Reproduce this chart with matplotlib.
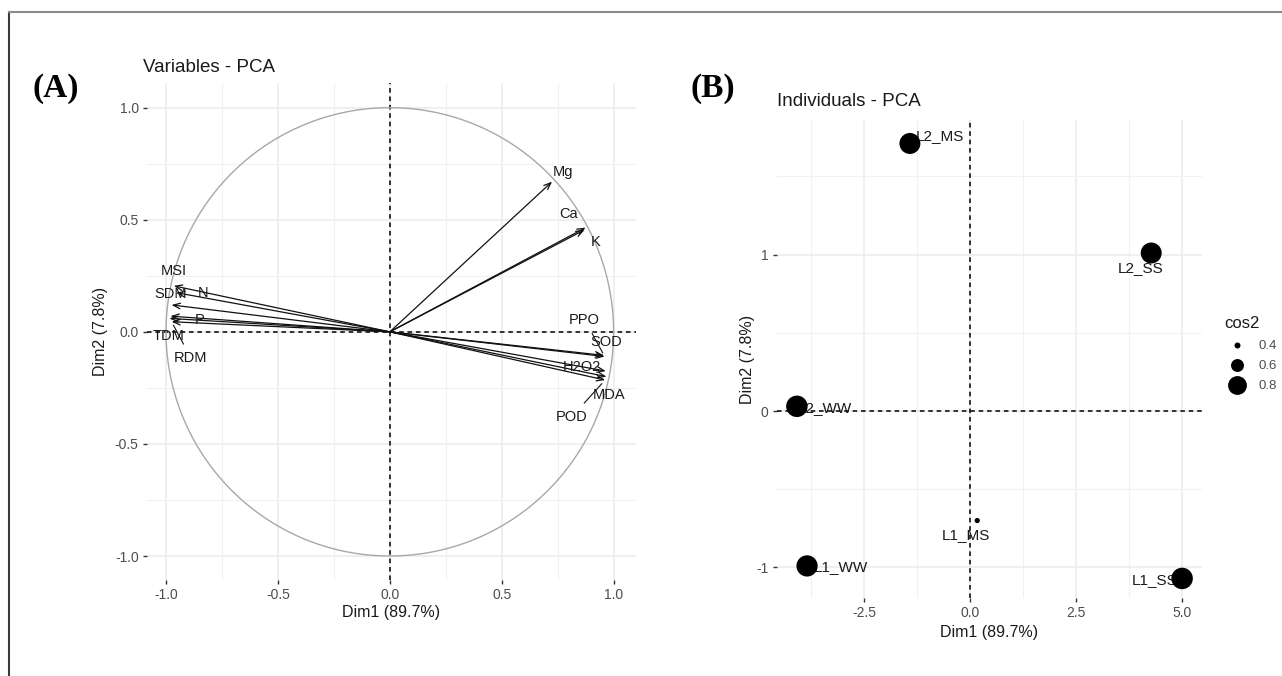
"""PCA biplot: (A) variable correlation circle, (B) individuals coloured by cos2"""
import numpy as np
import matplotlib
matplotlib.use('Agg')
import matplotlib.pyplot as plt
from matplotlib.lines import Line2D

plt.rcParams['font.family'] = ['Liberation Sans', 'DejaVu Sans']
plt.rcParams['axes.unicode_minus'] = False

# === data: variables (A) ===
var_names = ['Mg', 'Ca', 'K', 'PPO', 'SOD', 'H2O2', 'MDA', 'POD',
             'MSI', 'SDM', 'N', 'P', 'TDM', 'RDM']
var_dim1 = [0.725, 0.875, 0.870, 0.960, 0.957, 0.965, 0.968, 0.962,
            -0.965, -0.975, -0.955, -0.980, -0.985, -0.975]
var_dim2 = [0.670, 0.465, 0.455, -0.110, -0.105, -0.175, -0.200, -0.215,
            0.205, 0.120, 0.175, 0.070, 0.060, 0.045]

# === data: individuals (B) ===
ind_names = ['L2_MS', 'L2_SS', 'L2_WW', 'L1_MS', 'L1_WW', 'L1_SS']
ind_dim1 = [-1.42, 4.28, -4.09, 0.17, -3.85, 5.01]
ind_dim2 = [1.71, 1.01, 0.03, -0.70, -0.99, -1.07]
ind_cos2 = [0.88, 0.88, 0.90, 0.38, 0.89, 0.90]
cos2_breaks = [0.4, 0.6, 0.8]

xlab = 'Dim1 (89.7%)'
ylab = 'Dim2 (7.8%)'

# label offsets (data units) for the repelled labels
var_off = {
    'Mg': (0.05, 0.045), 'Ca': (-0.075, 0.06), 'K': (0.05, -0.055),
    'PPO': (-0.09, 0.165), 'SOD': (0.01, 0.06), 'H2O2': (-0.105, 0.02),
    'MDA': (0.01, -0.08), 'POD': (-0.15, -0.165),
    'MSI': (0.0, 0.065), 'SDM': (-0.005, 0.05), 'N': (0.12, 0.0),
    'P': (0.13, -0.015), 'TDM': (-0.005, -0.08), 'RDM': (0.085, -0.16),
}
var_seg = ['PPO', 'POD', 'RDM']
ind_off = {
    'L2_MS': (0.71, 0.05), 'L2_SS': (-0.24, -0.095), 'L2_WW': (0.66, -0.01),
    'L1_MS': (-0.26, -0.09), 'L1_WW': (0.80, -0.01), 'L1_SS': (-0.66, -0.01),
}

W, H = 1282, 676
GRID = '#ebebeb'
TICK_TXT = '#4d4d4d'


def px(x, y):
    return x / W, 1 - y / H


def cos2_size(v):
    # ggplot-like area scale: diameter linear in sqrt(cos2)
    d = -25 + 49 * np.sqrt(np.asarray(v, dtype=float))
    return (d * 72 / 100) ** 2


def style_axes(ax, major_x, minor_x, major_y, minor_y, xt, yt):
    ax.set_xticks(major_x)
    ax.set_xticks(minor_x, minor=True)
    ax.set_yticks(major_y)
    ax.set_yticks(minor_y, minor=True)
    ax.set_xticklabels(xt)
    ax.set_yticklabels(yt)
    ax.grid(which='major', color=GRID, lw=1.1)
    ax.grid(which='minor', color='#f1f1f1', lw=0.8)
    ax.set_axisbelow(True)
    for s in ax.spines.values():
        s.set_visible(False)
    ax.tick_params(which='major', length=3, width=1, color='#333333',
                   labelcolor=TICK_TXT, labelsize=10, pad=3)
    ax.tick_params(which='minor', length=0)
    ax.axhline(0, color='black', lw=1.1, ls=(0, (3, 2.5)), zorder=2)
    ax.axvline(0, color='black', lw=1.1, ls=(0, (3, 2.5)), zorder=2)


fig = plt.figure(figsize=(W / 100, H / 100), dpi=100)

# === (A) Variables - PCA ===
axA = fig.add_axes([147 / W, 1 - 580 / H, 489 / W, 497 / H])
axA.set_xlim(-1.085, 1.10)
axA.set_ylim(-1.107, 1.11)
ticksA = [-1.0, -0.5, 0.0, 0.5, 1.0]
style_axes(axA, ticksA, [-0.75, -0.25, 0.25, 0.75], ticksA, [-0.75, -0.25, 0.25, 0.75],
           [f'{t:.1f}' for t in ticksA], [f'{t:.1f}' for t in ticksA])

theta = np.linspace(0, 2 * np.pi, 400)
axA.plot(np.cos(theta), np.sin(theta), color='#a8a8a8', lw=1, zorder=3)

for name, x, y in zip(var_names, var_dim1, var_dim2):
    axA.annotate('', xy=(x, y), xytext=(0, 0),
                 arrowprops=dict(arrowstyle='->,head_length=0.5,head_width=0.2',
                                 color='#111111', lw=0.9, shrinkA=0, shrinkB=0),
                 zorder=4)
    dx, dy = var_off[name]
    axA.text(x + dx, y + dy, name, ha='center', va='center', fontsize=10.5,
             color='#1a1a1a', zorder=5)
    if name in var_seg:
        axA.plot([x + 0.1 * dx, x + 0.62 * dx], [y + 0.1 * dy, y + 0.62 * dy],
                 color='#111111', lw=0.8, zorder=4)

fig.text(*px(143, 68), 'Variables - PCA', fontsize=13.5, color='#1a1a1a',
         ha='left', va='center')
fig.text(*px(391, 613), xlab, fontsize=11.5, color='#1a1a1a', ha='center', va='center')
fig.text(*px(100, 331), ylab, fontsize=11.5, color='#1a1a1a', ha='center',
         va='center', rotation=90)

# === (B) Individuals - PCA ===
axB = fig.add_axes([777 / W, 1 - 598 / H, 425 / W, 478 / H])
axB.set_xlim(-4.56, 5.48)
axB.set_ylim(-1.195, 1.86)
style_axes(axB, [-2.5, 0.0, 2.5, 5.0], [-3.75, -1.25, 1.25, 3.75],
           [-1, 0, 1], [-0.5, 0.5, 1.5],
           ['-2.5', '0.0', '2.5', '5.0'], ['-1', '0', '1'])

for name, x, y in zip(ind_names, ind_dim1, ind_dim2):
    dx, dy = ind_off[name]
    axB.text(x + dx, y + dy, name, ha='center', va='center', fontsize=11,
             color='#1a1a1a', zorder=4)
axB.scatter(ind_dim1, ind_dim2, s=cos2_size(ind_cos2), color='black',
            linewidths=0, zorder=5)

handles = [axB.scatter([], [], s=cos2_size(v), color='black', linewidths=0)
           for v in cos2_breaks]
leg = axB.legend(handles, [f'{v:.1f}' for v in cos2_breaks], title='cos2',
                 frameon=False, loc='center left', bbox_to_anchor=(1.052, 0.51),
                 fontsize=9.5, title_fontsize=12, labelcolor=TICK_TXT,
                 handletextpad=0.6, borderpad=0, borderaxespad=0,
                 labelspacing=0.6, alignment='left')
leg.get_title().set_color('#1a1a1a')

fig.text(*px(777, 102), 'Individuals - PCA', fontsize=13.5, color='#1a1a1a',
         ha='left', va='center')
fig.text(*px(989, 633), xlab, fontsize=11.5, color='#1a1a1a', ha='center', va='center')
fig.text(*px(747, 359), ylab, fontsize=11.5, color='#1a1a1a', ha='center',
         va='center', rotation=90)

# panel tags
fig.text(*px(32, 88), '(A)', fontfamily='Liberation Serif', fontweight='bold',
         fontsize=24, ha='left', va='center')
fig.text(*px(690, 89), '(B)', fontfamily='Liberation Serif', fontweight='bold',
         fontsize=24, ha='left', va='center')

# outer frame (only left and top edges are visible)
fig.add_artist(Line2D([9 / W, 9 / W], [0, 1 - 12 / H], transform=fig.transFigure,
                      color='#3a3a3a', lw=1.5))
fig.add_artist(Line2D([9 / W, 1], [1 - 12 / H, 1 - 12 / H], transform=fig.transFigure,
                      color='#8a8a8a', lw=1.5))

fig.savefig('out.png', dpi=100)
